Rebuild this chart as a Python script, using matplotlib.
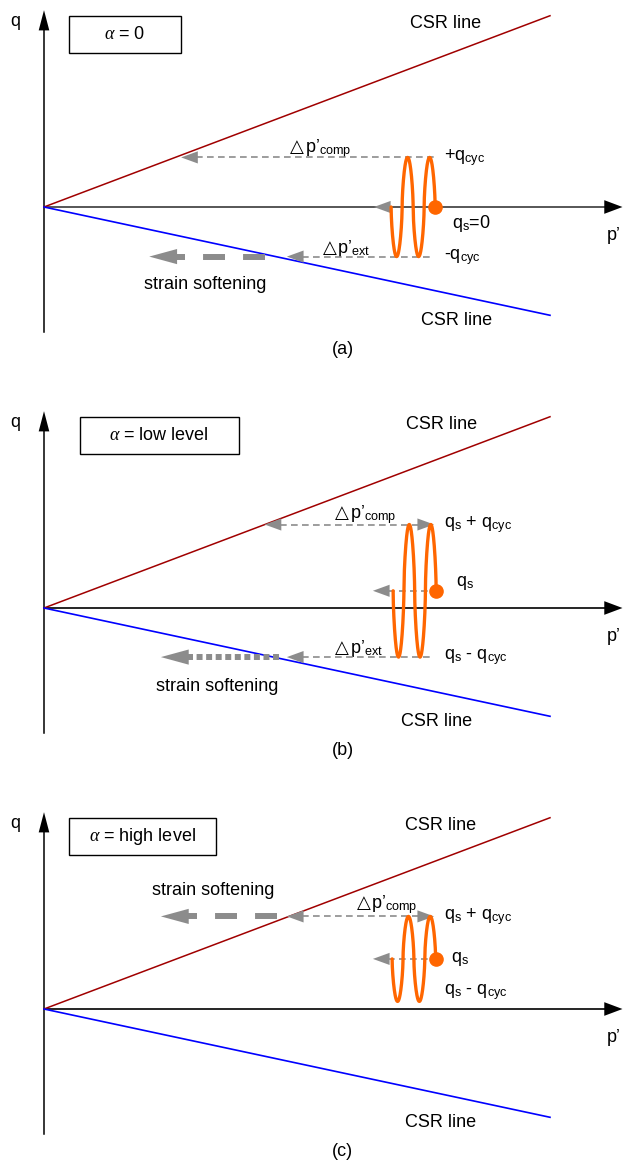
import numpy as np
import matplotlib
matplotlib.use("Agg")
import matplotlib.pyplot as plt
from matplotlib.patches import Polygon, Rectangle

plt.rcParams['font.family'] = ['Liberation Sans', 'DejaVu Sans']
plt.rcParams['mathtext.fontset'] = 'custom'
plt.rcParams['mathtext.rm'] = 'Liberation Sans'
plt.rcParams['mathtext.it'] = 'Liberation Serif:italic'
plt.rcParams['mathtext.bf'] = 'Liberation Sans:bold'

# ---------------- data: stress paths in p'-q space (shared units) ----------------
panel_tags = ['(a)', '(b)', '(c)']
alpha_values = ['0', 'low level', 'high level']
csr_comp_slope = 0.378
csr_ext_slope = -0.214
csr_p_end = 100.0

q_static = [0.0, 3.4, 9.9]
q_cyclic = [9.8, 13.1, 8.4]
loop_p_start = [68.6, 69.0, 68.8]
loop_p_end = [77.3, 77.5, 77.4]
loop_cycles = 2

comp_arrow_tip = [27.1, 43.6, 48.0]
ext_arrow_tip = [48.0, 48.0, None]
static_arrow_tip = [65.2, 65.0, 65.0]
path_p_right = 77.1

softening_side = ['ext', 'ext', 'comp']
softening_tip = [20.8, 23.1, 23.1]
softening_end = [43.7, 46.4, 46.0]
softening_style = ['dashed', 'dotted', 'dashed']

upper_labels = [r'+q$_{\mathrm{cyc}}$', r'q$_{\mathrm{s}}$ + q$_{\mathrm{cyc}}$', r'q$_{\mathrm{s}}$ + q$_{\mathrm{cyc}}$']
static_labels = [r'q$_{\mathrm{s}}$=0', r'q$_{\mathrm{s}}$', r'q$_{\mathrm{s}}$']
lower_labels = [r'-q$_{\mathrm{cyc}}$', r'q$_{\mathrm{s}}$ - q$_{\mathrm{cyc}}$', r'q$_{\mathrm{s}}$ - q$_{\mathrm{cyc}}$']
comp_label = r'p’$_{\mathrm{comp}}$'
ext_label = r'p’$_{\mathrm{ext}}$'

# ---------------- layout ----------------
W, H = 623, 1163
PX = 5.06                    # pixels per unit
ORIGIN_X = 44
ORIGIN_DY = 207
PANEL_TOP = [0, 401, 802]
PANEL_H = 358

RED = '#a00000'
BLUE = '#0000ff'
ORANGE = '#ff6600'
GRAY = '#8c8c8c'
FS = 13

fig = plt.figure(figsize=(W / 100, H / 100), dpi=100)


def head_h(ax, tip, q, direction, length, half, color, z=5):
    base = tip - direction * length
    ax.add_patch(Polygon([(tip, q), (base, q + half), (base, q - half)],
                         closed=True, facecolor=color, edgecolor='none', zorder=z))


def head_v(ax, p, tip, length, half, color, z=5):
    ax.add_patch(Polygon([(p, tip), (p - half, tip - length), (p + half, tip - length)],
                         closed=True, facecolor=color, edgecolor='none', zorder=z))


def coil(p0, p1, q0, amp, cycles, shape=0.6, npts=800):
    """Cyclic stress path: starts at q0 heading to the extension side."""
    theta = np.linspace(0, 2 * np.pi * cycles, npts)
    s = np.sin(theta)
    p = p0 + (p1 - p0) * theta / theta[-1]
    q = q0 - amp * np.sign(s) * np.abs(s) ** shape
    return p, q


def delta_label(ax, p_anchor, q_base, label):
    ax.text(p_anchor, q_base, '△', fontsize=FS, family='DejaVu Sans',
            ha='right', va='baseline')
    ax.text(p_anchor + 0.1, q_base, label, fontsize=FS, ha='left', va='baseline')


thin_ls = (0, (4.0, 2.6))
thin_lw = 1.2
th_len, th_half = 3.3, 1.2

for i in range(3):
    ax = fig.add_axes([0, 1 - (PANEL_TOP[i] + PANEL_H) / H, 1, PANEL_H / H])
    ax.set_xlim(-ORIGIN_X / PX, (W - ORIGIN_X) / PX)
    ax.set_ylim(-(PANEL_H - ORIGIN_DY) / PX, ORIGIN_DY / PX)
    ax.axis('off')

    # axes of the p'-q plane
    axis_col = '#3a3a3a' if i == 0 else 'black'
    ax.plot([0, 0], [-24.7, 36.0], color='black', lw=1.1, zorder=2)
    head_v(ax, 0, 38.9, 4.0, 1.05, 'black')
    p_max = (W - ORIGIN_X) / PX - 0.1
    ax.plot([0, p_max - 2.5], [0, 0], color=axis_col, lw=1.2, zorder=2)
    head_h(ax, p_max, 0, 1, 3.6, 1.35, 'black')
    ax.text(-5.7, 36.6, 'q', fontsize=FS, ha='center', va='center')
    ax.text(112.6, -5.6, 'p’', fontsize=FS, ha='center', va='center')

    # CSR lines
    ax.plot([0, csr_p_end], [0, csr_comp_slope * csr_p_end], color=RED, lw=1.1, zorder=3)
    ax.plot([0, csr_p_end], [0, csr_ext_slope * csr_p_end], color=BLUE, lw=1.2, zorder=3)
    upper_csr_x = [79.4, 78.5, 78.3][i]
    lower_csr_x = [81.6, 77.5, 78.3][i]
    ax.text(upper_csr_x, 36.3, 'CSR line', fontsize=FS, ha='center', va='center')
    ax.text(lower_csr_x, -22.4, 'CSR line', fontsize=FS, ha='center', va='center')

    # alpha box
    box_x0, box_x1 = [(4.9, 27.1), (7.1, 38.5), (4.9, 34.0)][i]
    ax.add_patch(Rectangle((box_x0, 30.4), box_x1 - box_x0, 7.3, fill=False,
                           edgecolor='black', lw=1.0, zorder=4))
    ax.text((box_x0 + box_x1) / 2, 34.05, r'$\alpha$ = ' + alpha_values[i],
            fontsize=FS, ha='center', va='center')

    ax.text(59.0, -28.2, panel_tags[i], fontsize=FS, ha='center', va='center')

    qs, qc = q_static[i], q_cyclic[i]
    q_top, q_bot = qs + qc, qs - qc

    # compression-side path (dashed, arrow to CSR line)
    ct = comp_arrow_tip[i]
    if i == 0:
        ax.plot([ct + th_len - 0.3, path_p_right], [q_top, q_top], color=GRAY,
                lw=thin_lw, ls=thin_ls, zorder=4)
    else:
        ax.plot([ct + th_len - 0.3, path_p_right - th_len + 0.3], [q_top, q_top],
                color=GRAY, lw=thin_lw, ls=thin_ls, zorder=4)
        head_h(ax, path_p_right, q_top, 1, th_len, th_half, GRAY)
    head_h(ax, ct, q_top, -1, th_len, th_half, GRAY)

    # extension-side path
    et = ext_arrow_tip[i]
    if et is not None:
        ax.plot([et + th_len - 0.3, path_p_right], [q_bot, q_bot], color=GRAY,
                lw=thin_lw, ls=thin_ls, zorder=4)
        head_h(ax, et, q_bot, -1, th_len, th_half, GRAY)

    # static level arrow
    st = static_arrow_tip[i]
    if i > 0:
        ax.plot([st + th_len - 0.3, loop_p_end[i]], [qs, qs], color=GRAY,
                lw=thin_lw, ls=thin_ls, zorder=4)
    head_h(ax, st, qs, -1, th_len, th_half, GRAY)

    # strain softening arrow
    sq = q_bot if softening_side[i] == 'ext' else q_top
    s_tip, s_end = softening_tip[i], softening_end[i]
    big_len, big_half = 5.5, 1.5
    lw_big = 4.3
    if softening_style[i] == 'dashed':
        ls_big = (0, (15.8 / lw_big, 13.0 / lw_big))
    else:
        ls_big = (0, (1.0, 0.6))
    ax.plot([s_end, s_tip + big_len - 0.2], [sq, sq], color=GRAY, lw=lw_big,
            ls=ls_big, dash_capstyle='butt', solid_capstyle='butt', zorder=4)
    head_h(ax, s_tip, sq, -1, big_len, big_half, GRAY)

    # cyclic loading loop
    lp, lq = coil(loop_p_start[i], loop_p_end[i], qs, qc, loop_cycles)
    ax.plot(lp, lq, color=ORANGE, lw=2.4, zorder=6, solid_capstyle='round',
            solid_joinstyle='round')
    ax.plot([loop_p_end[i]], [qs], 'o', ms=9.5, color=ORANGE, zorder=7)

    # path labels
    ax.text(79.1, q_top, upper_labels[i], fontsize=FS, ha='left', va='center')
    static_pos = [(80.6, -3.2), (81.4, qs + 1.6), (80.4, qs)][i]
    ax.text(static_pos[0], static_pos[1], static_labels[i], fontsize=FS,
            ha='left', va='center')
    lower_q = [q_bot, q_bot, q_bot + 1.9][i]
    ax.text(79.1, lower_q, lower_labels[i], fontsize=FS, ha='left', va='center')

    comp_pos = [(51.4, 10.9), (60.3, 17.8), (64.6, 19.9)][i]
    delta_label(ax, comp_pos[0], comp_pos[1], comp_label)
    if et is not None:
        ext_pos = [(57.9, -9.0), (60.3, -8.8)][i]
        delta_label(ax, ext_pos[0], ext_pos[1], ext_label)

    soft_pos = [(31.8, -15.4), (34.2, -15.6), (33.4, 23.5)][i]
    ax.text(soft_pos[0], soft_pos[1], 'strain softening', fontsize=FS,
            ha='center', va='center')

fig.savefig('out.png', dpi=100)
